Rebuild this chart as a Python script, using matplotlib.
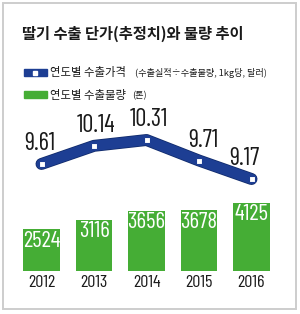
#!/usr/bin/env python3
# -*- coding: utf-8 -*-

import matplotlib
matplotlib.use('Agg')
import matplotlib.pyplot as plt
import matplotlib.patheffects as pe
from matplotlib import font_manager
from matplotlib.font_manager import FontProperties
from matplotlib.patches import Rectangle


years   = ['2012', '2013', '2014', '2015', '2016']
prices  = [9.61, 10.14, 10.31, 9.71, 9.17]
volumes = [2524, 3116, 3656, 3678, 4125]

title      = '딸기 수출 단가(추정치)와 물량 추이'
price_name = '연도별 수출가격'
price_note = '(수출실적÷수출물량, 1kg당, 달러)'
vol_name   = '연도별 수출물량'
vol_note   = '(톤)'

BLUE  = '#1d3e93'
GREEN = '#45ad35'
INK   = '#1a1a1a'
W, H  = 300, 314

KR = ['Noto Sans CJK KR', 'DejaVu Sans']
NARROW = ['Nimbus Sans Narrow', 'Liberation Sans Narrow', 'Barlow Condensed',
          'Roboto Condensed', 'Archivo Narrow']


def narrow_font():
    def plain(f):
        return f.style == 'normal' and f.weight in (400, 'normal', 'regular')

    fonts = [f for f in font_manager.fontManager.ttflist if plain(f)]
    for name in NARROW:
        for f in fonts:
            if f.name == name:
                return FontProperties(fname=f.fname)
    return FontProperties(family='Liberation Sans')


def fit_size(fig, text, fp, target_px):
    # font size whose rendered width matches the reference width
    r = fig.canvas.get_renderer()
    probe = fp.copy()
    probe.set_size(10)
    w, _, _ = r.get_text_width_height_descent(text, probe, ismath=False)
    return 10 * target_px / w


def fx(px):
    return px / W


def fy(py):
    return 1 - py / H


def main():
    fig = plt.figure(figsize=(W / 100, H / 100), dpi=100)
    fig.patch.set_facecolor('white')
    num = narrow_font()

    bar_fs  = fit_size(fig, '2524', num, 37)
    year_fs = fit_size(fig, '2012', num, 27)
    line_fs = fit_size(fig, '9.61', num, 31)

    fig.patches.append(Rectangle((fx(3), fy(309)), fx(293), 306 / H,
                                 transform=fig.transFigure, fill=False,
                                 edgecolor='#cdcdcd', lw=1.4))

    fig.text(fx(22), fy(34), title, family=KR, weight='bold', fontsize=11,
             color=INK, va='center', ha='left')

    fig.patches.append(Rectangle((fx(24), fy(76)), fx(23), 7 / H,
                                 transform=fig.transFigure, color=BLUE))
    fig.patches.append(Rectangle((fx(33), fy(74.5)), fx(4), 4 / H,
                                 transform=fig.transFigure, color='white'))
    fig.patches.append(Rectangle((fx(24), fy(98)), fx(23), 7 / H,
                                 transform=fig.transFigure, color=GREEN))
    fig.text(fx(50), fy(72.5), price_name, family=KR, fontsize=8.2,
             color=INK, va='center', ha='left')
    fig.text(fx(135), fy(73), price_note, family=KR, fontsize=6.6,
             color=INK, va='center', ha='left')
    fig.text(fx(50), fy(95), vol_name, family=KR, fontsize=8.2,
             color=INK, va='center', ha='left')
    fig.text(fx(132), fy(96), vol_note, family=KR, fontsize=6.6,
             color=INK, va='center', ha='left')

    x = list(range(len(years)))
    left, width = fx(15.25), fx(262.5)

    # volume bars
    ax = fig.add_axes([left, fy(271), width, 82.4 / H])
    ax.bar(x, volumes, width=0.7, color=GREEN)
    ax.set_xlim(-0.5, 4.5)
    ax.set_ylim(0, 5000)
    for xi, v in zip(x, volumes):
        ax.annotate(str(v), (xi, v), xytext=(0, -1), textcoords='offset points',
                    ha='center', va='top', color='white', fontproperties=num,
                    fontsize=bar_fs)
    ax.set_xticks(x, years)
    for lab in ax.get_xticklabels():
        lab.set_fontproperties(num)
        lab.set_fontsize(year_fs)
        lab.set_color(INK)
    ax.tick_params(axis='x', length=0, pad=3)
    ax.set_yticks([])
    for s in ax.spines.values():
        s.set_visible(False)
    ax.patch.set_visible(False)

    # price line
    lx = fig.add_axes([left, fy(200), width, 100 / H])
    lx.plot(x, prices, color=BLUE, lw=7.5, solid_capstyle='round',
            solid_joinstyle='round',
            path_effects=[pe.Stroke(linewidth=8.6, foreground='#102a6a'),
                          pe.Normal()])
    lx.plot(x, prices, ls='none', marker='s', ms=5, mfc='white',
            mec=BLUE, mew=0.8)
    lx.set_xlim(-0.5, 4.5)
    lx.set_ylim(8.556, 11.48)
    shifts = [-1.5, 1.5, 1.5, 3, -5]
    for xi, p, dx in zip(x, prices, shifts):
        lx.annotate(f'{p:.2f}', (xi, p), xytext=(dx, 14.5),
                    textcoords='offset points', ha='center', va='center',
                    color=INK, fontproperties=num, fontsize=line_fs)
    lx.axis('off')

    fig.savefig('out.png', dpi=100)


if __name__ == '__main__':
    main()
